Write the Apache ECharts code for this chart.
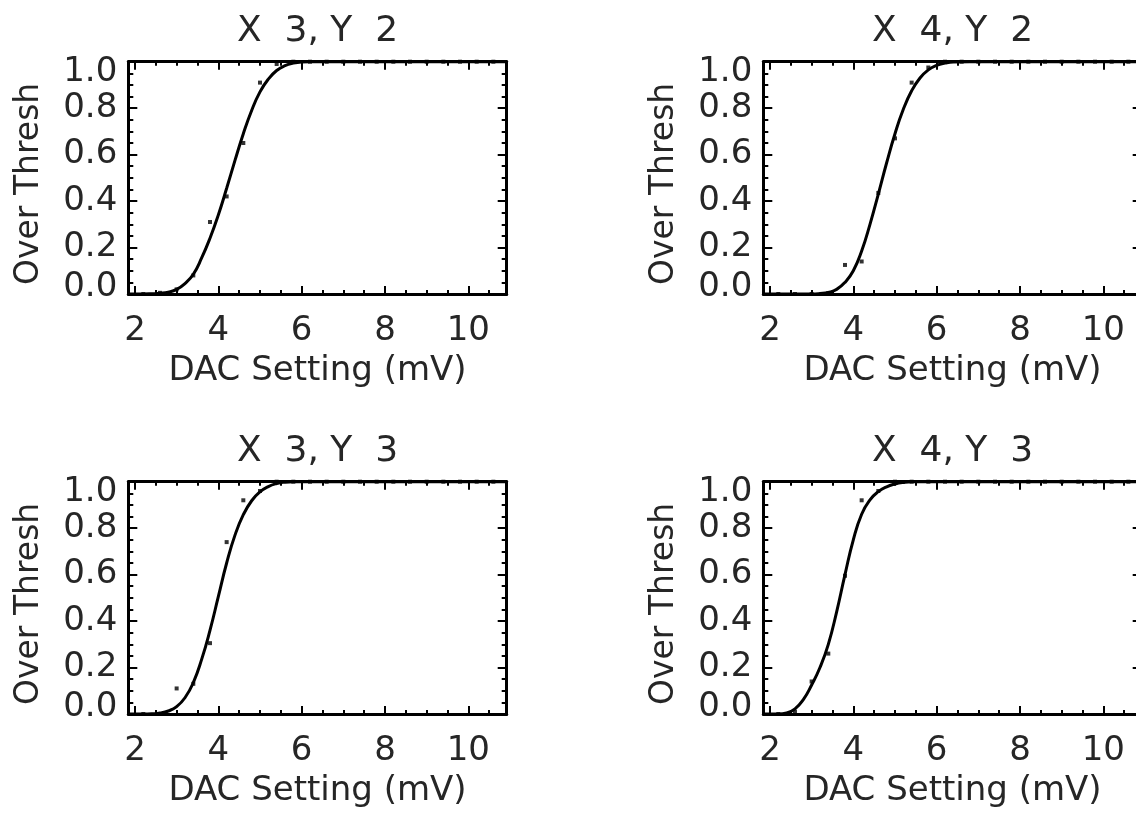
<!DOCTYPE html>
<html>
<head>
<meta charset="utf-8">
<script src="https://cdn.jsdelivr.net/npm/echarts@6/dist/echarts.min.js"></script>
<style>
html,body{margin:0;padding:0;background:#fff;}
#c{width:1136px;height:813px;}
</style>
</head>
<body>
<div id="c"></div>
<script>
// ---------- data ----------
const panelTitles = ['X  3, Y  2', 'X  4, Y  2', 'X  3, Y  3', 'X  4, Y  3'];
const xAxisName = 'DAC Setting (mV)';
const yAxisName = 'Over Thresh';
const xRange = [1.84, 10.92];
const xMajorTicks = [2, 4, 6, 8, 10];
const xMinorTicks = [2.5, 3, 3.5, 4.5, 5, 5.5, 6.5, 7, 7.5, 8.5, 9, 9.5, 10.5];
const xTickLabels = ['2', '4', '6', '8', '10'];
const yTickLabels = ['0.0', '0.2', '0.4', '0.6', '0.8', '1.0'];

// measured points (DAC setting, fraction over threshold)
const pointX = [2.2, 2.6, 3.0, 3.4, 3.8, 4.2, 4.6, 5.0, 5.4, 5.8, 6.2, 6.6, 7.0, 7.4, 7.8, 8.2, 8.6, 9.0, 9.4, 9.8, 10.2, 10.6];
const pointsX3Y2 = [0, 0.005, 0.02, 0.08, 0.31, 0.42, 0.65, 0.91, 0.99, 1, 1, 1, 1, 1, 1, 1, 1, 1, 1, 1, 1, 1];
const pointsX4Y2 = [0, 0, 0, 0.004, 0.125, 0.14, 0.435, 0.67, 0.91, 0.975, 1, 1, 1, 1, 1, 1, 1, 1, 1, 1, 1, 1];
const pointsX3Y3 = [0, 0, 0.11, 0.13, 0.305, 0.74, 0.92, 0.96, 1, 1, 1, 1, 1, 1, 1, 1, 1, 1, 1, 1, 1, 1];
const pointsX4Y3 = [0, 0.01, 0.14, 0.26, 0.595, 0.92, 0.96, 1, 1, 1, 1, 1, 1, 1, 1, 1, 1, 1, 1, 1, 1, 1];

// fitted curves
const curveX = [1.84, 2.2, 2.4, 2.6, 2.8, 3.0, 3.2, 3.4, 3.6, 3.8, 4.0, 4.2, 4.4, 4.6, 4.8, 5.0, 5.2, 5.4, 5.6, 5.8, 6.0, 6.2, 6.4, 6.8, 10.92];
const curveX3Y2 = [0, 0, 0.001, 0.003, 0.008, 0.02, 0.045, 0.085, 0.155, 0.24, 0.34, 0.455, 0.575, 0.69, 0.79, 0.87, 0.925, 0.962, 0.983, 0.994, 0.999, 1, 1, 1, 1];
const curveX4Y2 = [0, 0, 0, 0, 0, 0, 0.002, 0.007, 0.02, 0.05, 0.1, 0.185, 0.3, 0.43, 0.565, 0.69, 0.795, 0.875, 0.93, 0.965, 0.984, 0.994, 0.999, 1, 1];
const curveX3Y3 = [0, 0, 0.001, 0.004, 0.013, 0.032, 0.07, 0.135, 0.235, 0.36, 0.505, 0.65, 0.77, 0.858, 0.918, 0.956, 0.979, 0.992, 0.998, 1, 1, 1, 1, 1, 1];
const curveX4Y3 = [0, 0, 0.004, 0.022, 0.062, 0.125, 0.2, 0.3, 0.44, 0.6, 0.75, 0.86, 0.922, 0.957, 0.978, 0.99, 0.997, 1, 1, 1, 1, 1, 1, 1, 1];

const panelPoints = [pointsX3Y2, pointsX4Y2, pointsX3Y3, pointsX4Y3];
const panelCurves = [curveX3Y2, curveX4Y2, curveX3Y3, curveX4Y3];

// ---------- layout ----------
const boxes = [
  {left: 128.3, top: 61.7},
  {left: 763.3, top: 61.7},
  {left: 128.3, top: 481.7},
  {left: 763.3, top: 481.7}
];
const boxW = 378.4, boxH = 232.3;
const FONT = 'DejaVu Sans';
const INK = '#000';
const TXT = '#262626';

const grid = [], xAxis = [], yAxis = [], series = [], title = [];

boxes.forEach((b, i) => {
  grid.push({left: b.left, top: b.top, width: boxW, height: boxH, outerBoundsMode: 'none', containLabel: false});
  title.push({
    text: panelTitles[i], left: b.left + boxW / 2, top: b.top - 48, textAlign: 'center', padding: 0,
    textStyle: {fontFamily: FONT, fontSize: 36, fontWeight: 'normal', color: TXT}
  });

  const xBase = {gridIndex: i, type: 'value', min: xRange[0], max: xRange[1], splitLine: {show: false}, z: 5};
  // bottom major (with labels and name)
  xAxis.push(Object.assign({}, xBase, {
    position: 'bottom',
    axisLine: {show: true, onZero: false, lineStyle: {color: INK, width: 3}},
    axisTick: {show: true, inside: true, length: 8, customValues: xMajorTicks, lineStyle: {color: INK, width: 2}},
    axisLabel: {show: true, customValues: xMajorTicks, margin: 20, fontFamily: FONT, fontSize: 34, color: TXT,
      formatter: v => xTickLabels[xMajorTicks.indexOf(v)]},
    name: xAxisName, nameLocation: 'middle', nameGap: 60,
    nameTextStyle: {fontFamily: FONT, fontSize: 34, color: TXT}
  }));
  // bottom minor
  xAxis.push(Object.assign({}, xBase, {
    position: 'bottom', axisLine: {show: false, onZero: false},
    axisTick: {show: true, inside: true, length: 4, customValues: xMinorTicks, lineStyle: {color: INK, width: 2}},
    axisLabel: {show: false}
  }));
  // top major
  xAxis.push(Object.assign({}, xBase, {
    position: 'top',
    axisLine: {show: true, onZero: false, lineStyle: {color: INK, width: 3}},
    axisTick: {show: true, inside: true, length: 8, customValues: xMajorTicks, lineStyle: {color: INK, width: 2}},
    axisLabel: {show: false}
  }));
  // top minor
  xAxis.push(Object.assign({}, xBase, {
    position: 'top', axisLine: {show: false, onZero: false},
    axisTick: {show: true, inside: true, length: 4, customValues: xMinorTicks, lineStyle: {color: INK, width: 2}},
    axisLabel: {show: false}
  }));

  const yBase = {gridIndex: i, type: 'value', min: 0, max: 1, interval: 0.2, splitLine: {show: false}, z: 5,
    axisLine: {show: true, onZero: false, lineStyle: {color: INK, width: 3}},
    axisTick: {show: true, inside: true, length: 9, lineStyle: {color: INK, width: 2}},
    minorTick: {show: true, splitNumber: 4, length: 5, lineStyle: {color: INK, width: 2}},
    minorSplitLine: {show: false}};
  yAxis.push(Object.assign({}, yBase, {
    position: 'left',
    axisLabel: {show: true, margin: 11, fontFamily: FONT, fontSize: 34, color: TXT,
      formatter: v => {
        const s = yTickLabels[Math.round(v / 0.2)];
        if (Math.abs(v - 1) < 1e-9) return '{hi|' + s + '}';
        if (Math.abs(v) < 1e-9) return '{lo|' + s + '}';
        return s;
      },
      rich: {
        hi: {fontFamily: FONT, fontSize: 34, color: TXT, padding: [20, 0, 0, 0]},
        lo: {fontFamily: FONT, fontSize: 34, color: TXT, padding: [0, 0, 14, 0]}
      }},
    name: yAxisName, nameLocation: 'middle', nameGap: 82,
    nameTextStyle: {fontFamily: FONT, fontSize: 33, color: TXT, padding: [0, 12, 0, 0]}
  }));
  yAxis.push(Object.assign({}, yBase, {position: 'right', axisLabel: {show: false}}));

  series.push({
    type: 'line', xAxisIndex: i * 4, yAxisIndex: i * 2,
    data: curveX.map((x, k) => [x, panelCurves[i][k]]),
    smooth: true, showSymbol: false, symbol: 'none',
    lineStyle: {color: INK, width: 3}, clip: true, z: 2, silent: true
  });
  series.push({
    type: 'scatter', xAxisIndex: i * 4, yAxisIndex: i * 2,
    data: pointX.map((x, k) => [x, panelPoints[i][k]]),
    symbol: 'rect', symbolSize: 4, itemStyle: {color: INK}, z: 3, silent: true
  });
});

const chart = echarts.init(document.getElementById('c'), null, {renderer: 'canvas'});
chart.setOption({
  backgroundColor: '#fff',
  animation: false,
  title, grid, xAxis, yAxis, series
});
</script>
</body>
</html>
